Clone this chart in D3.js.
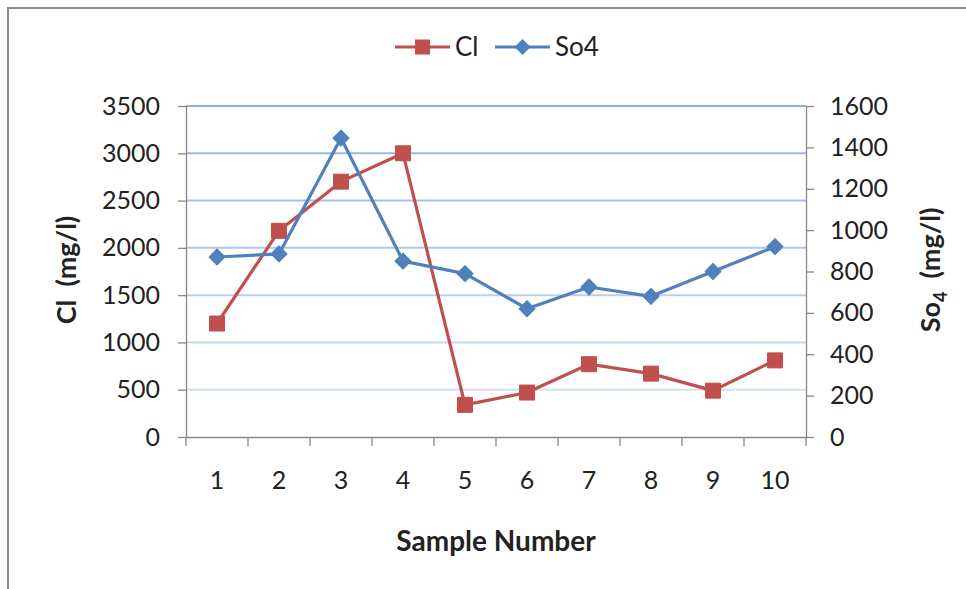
<!DOCTYPE html>
<html>
<head>
<meta charset="utf-8">
<script src="https://cdn.jsdelivr.net/npm/d3@7"></script>
<style>
  body { margin: 0; background: #fff; }
  text { font-family: Lato, "Open Sans", sans-serif; fill: #222; }
</style>
</head>
<body>
<script>
// data
const samples = ["1", "2", "3", "4", "5", "6", "7", "8", "9", "10"];
const clValues = [1200, 2180, 2700, 3000, 340, 470, 770, 670, 490, 810];
const so4Values = [870, 885, 1445, 850, 790, 620, 725, 680, 800, 920];
const clTicks = [0, 500, 1000, 1500, 2000, 2500, 3000, 3500];
const so4Ticks = [0, 200, 400, 600, 800, 1000, 1200, 1400, 1600];

const width = 966, height = 589;
const margin = {top: 106, right: 160, bottom: 152, left: 186};
const red = "#c0504d", blue = "#4f81bd";

let svg = d3.select("body")
    .append("svg")
    .attr("width", width)
    .attr("height", height);

// outer frame (left + top visible)
svg.append("path")
    .attr("d", `M8,${height} L8,8 L${width},8`)
    .attr("fill", "none")
    .attr("stroke", "#8c8c8c")
    .attr("stroke-width", 2);

let x = d3.scaleBand()
    .domain(samples)
    .range([margin.left, width - margin.right]);

let yLeft = d3.scaleLinear()
    .domain([0, 3500])
    .range([height - margin.bottom, margin.top]);

let yRight = d3.scaleLinear()
    .domain([0, 1600])
    .range([height - margin.bottom, margin.top]);

//Gridlines
svg.append("g")
    .selectAll("line")
    .data(clTicks.filter(d => d > 0))
    .join("line")
    .attr("x1", margin.left)
    .attr("x2", width - margin.right)
    .attr("y1", d => yLeft(d))
    .attr("y2", d => yLeft(d))
    .attr("stroke", d => d3.interpolateRgb("#dde7f5", "#8eb0e2")(d / 3500))
    .attr("stroke-width", 2);

//Axes
let axisStyle = g => {
    g.select(".domain").attr("stroke", "#888").attr("stroke-width", 1.3);
    g.selectAll(".tick line").attr("stroke", "#888").attr("stroke-width", 1.3);
    g.selectAll(".tick text").style("font-size", "25px").attr("fill", "#222");
};

svg.append("g")
    .attr("transform", `translate(${margin.left},0)`)
    .call(d3.axisLeft(yLeft).tickValues(clTicks).tickFormat(d3.format("d"))
        .tickSize(8).tickSizeOuter(0).tickPadding(18))
    .call(axisStyle);

svg.append("g")
    .attr("transform", `translate(${width - margin.right},0)`)
    .call(d3.axisRight(yRight).tickValues(so4Ticks).tickFormat(d3.format("d"))
        .tickSize(8).tickSizeOuter(0).tickPadding(16))
    .call(axisStyle);

let xAxis = svg.append("g")
    .attr("transform", `translate(0,${height - margin.bottom})`)
    .call(d3.axisBottom(x).tickSize(0).tickSizeOuter(0).tickPadding(34))
    .call(axisStyle);

// category boundary ticks
xAxis.selectAll(".bound")
    .data(d3.range(samples.length + 1))
    .join("line")
    .attr("class", "bound")
    .attr("x1", i => margin.left + i * x.step())
    .attr("x2", i => margin.left + i * x.step())
    .attr("y1", 0)
    .attr("y2", 9)
    .attr("stroke", "#888")
    .attr("stroke-width", 1.3);

//Series
let cx = (d, i) => x(samples[i]) + x.bandwidth() / 2;

function drawSeries(values, scale, color, marker) {
    let line = d3.line()
        .x(cx)
        .y(d => scale(d));
    svg.append("path")
        .datum(values)
        .attr("d", line)
        .attr("fill", "none")
        .attr("stroke", color)
        .attr("stroke-width", 3.2)
        .attr("stroke-linejoin", "round");
    svg.append("g")
        .selectAll("path")
        .data(values)
        .join("path")
        .attr("d", d3.symbol().type(marker.type).size(marker.size))
        .attr("transform", (d, i) => `translate(${cx(d, i)},${scale(d)})` + (marker.rot ? " rotate(45)" : ""))
        .attr("fill", color)
        .attr("stroke", color)
        .attr("stroke-width", 1)
        .attr("stroke-linejoin", "round");
}

const clMarker = {type: d3.symbolSquare, size: 225};
const so4Marker = {type: d3.symbolSquare, size: 130, rot: true};

drawSeries(clValues, yLeft, red, clMarker);
drawSeries(so4Values, yRight, blue, so4Marker);

//Axis titles
svg.append("text")
    .attr("x", (margin.left + width - margin.right) / 2)
    .attr("y", 551)
    .attr("text-anchor", "middle")
    .style("font-size", "28px")
    .style("font-weight", "bold")
    .text("Sample Number");

svg.append("text")
    .attr("transform", "translate(76,270) rotate(-90)")
    .attr("text-anchor", "middle")
    .style("font-size", "27px")
    .style("font-weight", "bold")
    .style("white-space", "pre")
    .text("Cl  (mg/l)");

let rt = svg.append("text")
    .attr("transform", "translate(940,270) rotate(-90)")
    .attr("text-anchor", "middle")
    .style("font-size", "27px")
    .style("font-weight", "bold")
    .style("white-space", "pre");
rt.append("tspan").text("So");
rt.append("tspan").attr("dy", 7).style("font-size", "18px").text("4");
rt.append("tspan").attr("dy", -7).text("  (mg/l)");

//Legend
let legendData = [
    {name: "Cl", color: red, x: 395, marker: clMarker},
    {name: "So4", color: blue, x: 495, marker: so4Marker}
];
let legend = svg.append("g")
    .selectAll("g")
    .data(legendData)
    .join("g")
    .attr("transform", d => `translate(${d.x},47)`);
legend.append("line")
    .attr("x1", 0).attr("x2", 55)
    .attr("stroke", d => d.color)
    .attr("stroke-width", 3.2);
legend.append("path")
    .attr("d", d => d3.symbol().type(d.marker.type).size(d.marker.size)())
    .attr("transform", d => "translate(27.5,0)" + (d.marker.rot ? " rotate(45)" : ""))
    .attr("fill", d => d.color);
legend.append("text")
    .attr("x", 60)
    .attr("y", 9)
    .style("font-size", "26px")
    .text(d => d.name);
</script>
</body>
</html>
